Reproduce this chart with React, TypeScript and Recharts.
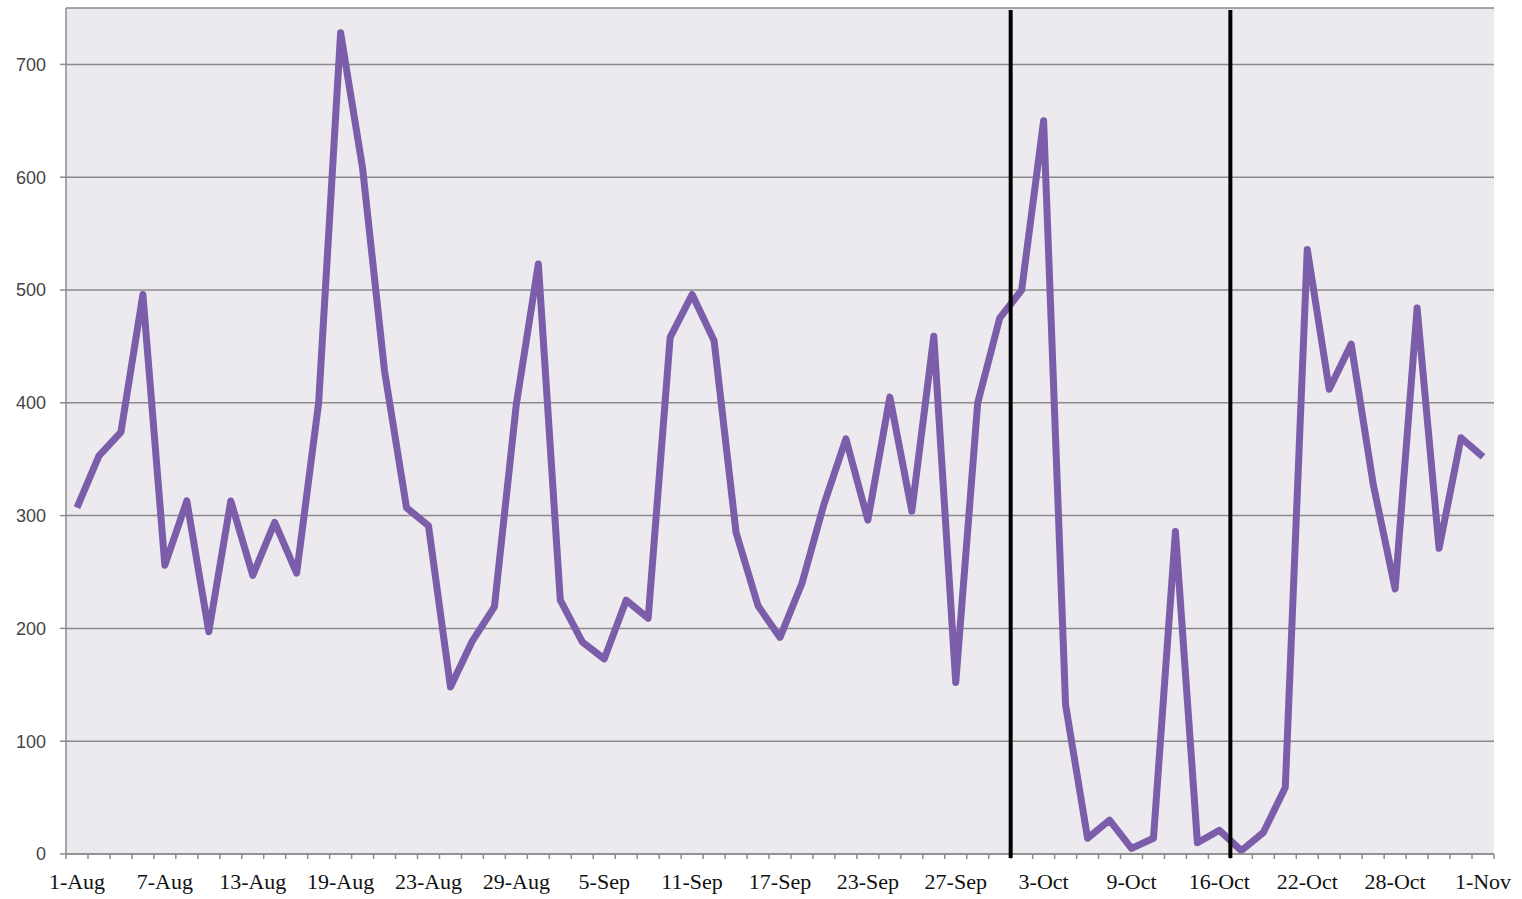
import React from 'react';
import { LineChart, Line, XAxis, YAxis, CartesianGrid } from 'recharts';

// Dates on the category axis (only every 4th one is labelled)
const dates = [
  '1-Aug', '2-Aug', '3-Aug', '6-Aug', '7-Aug', '8-Aug', '9-Aug', '10-Aug',
  '13-Aug', '14-Aug', '15-Aug', '16-Aug', '19-Aug', '20-Aug', '21-Aug', '22-Aug',
  '23-Aug', '24-Aug', '27-Aug', '28-Aug', '29-Aug', '30-Aug', '31-Aug', '4-Sep',
  '5-Sep', '6-Sep', '7-Sep', '10-Sep', '11-Sep', '12-Sep', '13-Sep', '14-Sep',
  '17-Sep', '18-Sep', '19-Sep', '20-Sep', '23-Sep', '24-Sep', '25-Sep', '26-Sep',
  '27-Sep', '28-Sep', '1-Oct', '2-Oct', '3-Oct', '4-Oct', '5-Oct', '8-Oct',
  '9-Oct', '10-Oct', '11-Oct', '15-Oct', '16-Oct', '17-Oct', '18-Oct', '19-Oct',
  '22-Oct', '23-Oct', '24-Oct', '25-Oct', '28-Oct', '29-Oct', '30-Oct', '31-Oct',
  '1-Nov',
];

const counts = [
  307, 353, 374, 496, 256, 313, 197, 313,
  247, 294, 249, 400, 728, 608, 428, 307,
  291, 148, 189, 219, 399, 523, 225, 188,
  173, 225, 209, 458, 496, 455, 285, 220,
  192, 240, 310, 368, 296, 405, 304, 459,
  152, 400, 475, 500, 650, 132, 14, 30,
  5, 14, 286, 10, 21, 3, 19, 59,
  536, 412, 452, 328, 235, 484, 271, 369,
  352,
];

const yTicks = [0, 100, 200, 300, 400, 500, 600, 700];
const labelEvery = 4;
// black vertical markers sit just before these dates
const markerDates = ['2-Oct', '17-Oct'];

const data = dates.map((date, i) => ({ date, value: counts[i] }));

const CHART_W = 1522;
const CHART_H = 899;
const MARGIN = { top: 8, right: 28, left: 0, bottom: 0 };
const Y_AXIS_W = 66;
const X_AXIS_H = 45;
const PLOT_W = CHART_W - MARGIN.left - MARGIN.right - Y_AXIS_W;
const BAND = PLOT_W / dates.length;
const AXIS_Y = CHART_H - MARGIN.bottom - X_AXIS_H;
const AXIS_COLOR = '#8c8c8c';

// tick marks sit on the category boundaries, labels on every 4th category,
// and the two black markers on the boundary in front of their date
const DateTick = (props: any) => {
  const { x, payload } = props;
  const i = payload.index;
  const left = x - BAND / 2;
  return (
    <g>
      <line x1={left} x2={left} y1={AXIS_Y} y2={AXIS_Y + 5} stroke={AXIS_COLOR} strokeWidth={1.5} />
      {i === dates.length - 1 && (
        <line x1={x + BAND / 2} x2={x + BAND / 2} y1={AXIS_Y} y2={AXIS_Y + 5} stroke={AXIS_COLOR} strokeWidth={1.5} />
      )}
      {markerDates.includes(payload.value) && (
        <line x1={left} x2={left} y1={MARGIN.top + 2} y2={AXIS_Y + 4} stroke="#000" strokeWidth={4} />
      )}
      {i % labelEvery === 0 && (
        <text
          x={x}
          y={AXIS_Y + 35}
          textAnchor="middle"
          fontFamily="'Liberation Serif', 'Times New Roman', serif"
          fontSize={22}
          fill="#111"
        >
          {payload.value}
        </text>
      )}
    </g>
  );
};

const App: React.FC = () => {
  return (
    <div style={{ position: 'absolute', left: 0, top: 0, width: CHART_W, height: CHART_H, background: '#fff' }}>
      <LineChart width={CHART_W} height={CHART_H} data={data} margin={MARGIN}>
        <CartesianGrid vertical={false} stroke="#8a8a8a" strokeWidth={1.5} fill="#ECEAEF" />
        <YAxis
          domain={[0, 750]}
          ticks={yTicks}
          width={Y_AXIS_W}
          tickSize={6}
          tickMargin={14}
          axisLine={{ stroke: AXIS_COLOR, strokeWidth: 1.5 }}
          tickLine={{ stroke: AXIS_COLOR, strokeWidth: 1.5 }}
          tick={{ fill: '#444', fontSize: 18, fontFamily: "'Liberation Sans', Arial, sans-serif" }}
        />
        <Line
          type="linear"
          dataKey="value"
          stroke="#7B5DA9"
          strokeWidth={7}
          strokeLinejoin="round"
          dot={false}
          activeDot={false}
          isAnimationActive={false}
        />
        <XAxis
          dataKey="date"
          interval={0}
          height={X_AXIS_H}
          padding={{ left: BAND / 2, right: BAND / 2 }}
          tickLine={false}
          tick={<DateTick />}
          axisLine={{ stroke: AXIS_COLOR, strokeWidth: 1.5 }}
        />
      </LineChart>
    </div>
  );
};

export default App;
